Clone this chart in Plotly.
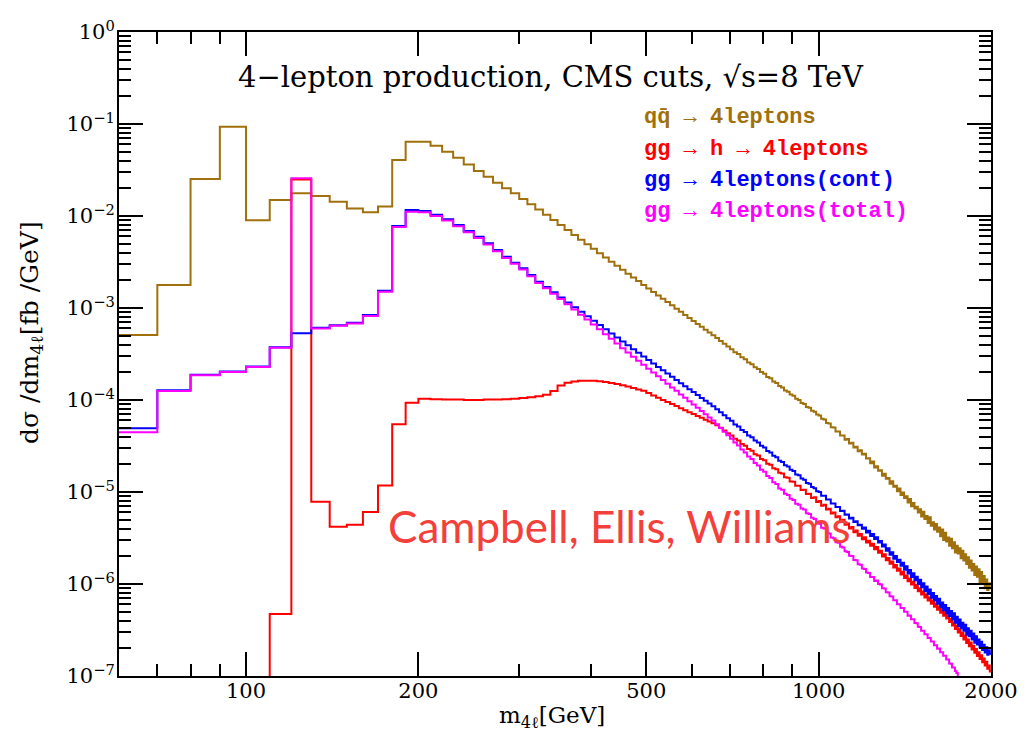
import plotly.graph_objects as go

# ---------------------------------------------------------------------------
# Four-lepton invariant-mass spectra, 10 GeV bins from 60 to 2000 GeV
# ---------------------------------------------------------------------------
BIN_LO, BIN_HI, BIN_W = 60, 2000, 10
bin_edges = list(range(BIN_LO, BIN_HI + BIN_W, BIN_W))

# dsigma/dm4l [fb/GeV], one value per 10 GeV bin
qqbar_4l = [
    5.10e-4, 1.78e-3, 2.52e-2, 9.35e-2, 8.98e-3, 1.49e-2, 1.77e-2, 1.65e-2, 1.43e-2, 1.21e-2, 1.10e-2, 1.27e-2, 4.06e-2, 6.42e-2,
    6.42e-2, 5.81e-2, 5.00e-2, 4.30e-2, 3.64e-2, 3.08e-2, 2.67e-2, 2.30e-2, 2.00e-2, 1.77e-2,
    1.53e-2, 1.34e-2, 1.18e-2, 1.03e-2, 9.05e-3, 7.96e-3, 7.03e-3, 6.22e-3, 5.52e-3, 4.92e-3,
    4.40e-3, 3.94e-3, 3.54e-3, 3.19e-3, 2.88e-3, 2.61e-3, 2.36e-3, 2.15e-3, 1.96e-3, 1.78e-3,
    1.63e-3, 1.49e-3, 1.37e-3, 1.26e-3, 1.16e-3, 1.07e-3, 9.84e-4, 9.08e-4, 8.41e-4, 7.80e-4,
    7.23e-4, 6.71e-4, 6.25e-4, 5.81e-4, 5.42e-4, 5.06e-4, 4.71e-4, 4.39e-4, 4.09e-4, 3.82e-4,
    3.57e-4, 3.30e-4, 3.16e-4, 2.92e-4, 2.77e-4, 2.56e-4, 2.45e-4, 2.27e-4, 2.17e-4, 2.01e-4,
    1.93e-4, 1.78e-4, 1.72e-4, 1.59e-4, 1.53e-4, 1.42e-4, 1.37e-4, 1.27e-4, 1.23e-4, 1.15e-4,
    1.11e-4, 1.03e-4, 1.00e-4, 9.28e-5, 9.05e-5, 8.41e-5, 8.22e-5, 7.62e-5, 7.47e-5, 6.95e-5,
    6.80e-5, 6.25e-5, 6.15e-5, 5.62e-5, 5.55e-5, 5.05e-5, 5.02e-5, 4.55e-5, 4.55e-5, 4.12e-5,
    4.12e-5, 3.70e-5, 3.76e-5, 3.36e-5, 3.42e-5, 3.05e-5, 3.10e-5, 2.78e-5, 2.84e-5, 2.55e-5,
    2.60e-5, 2.31e-5, 2.33e-5, 2.05e-5, 2.14e-5, 1.85e-5, 1.90e-5, 1.70e-5, 1.72e-5, 1.50e-5,
    1.58e-5, 1.39e-5, 1.42e-5, 1.23e-5, 1.31e-5, 1.14e-5, 1.17e-5, 1.02e-5, 1.09e-5, 9.30e-6,
    9.90e-6, 8.60e-6, 9.00e-6, 7.70e-6, 8.40e-6, 7.00e-6, 7.60e-6, 6.60e-6, 6.90e-6, 6.00e-6,
    6.50e-6, 5.40e-6, 6.10e-6, 5.10e-6, 5.50e-6, 4.60e-6, 5.30e-6, 4.30e-6, 4.70e-6, 3.90e-6,
    4.50e-6, 3.70e-6, 4.10e-6, 3.30e-6, 3.90e-6, 3.00e-6, 3.60e-6, 2.90e-6, 3.20e-6, 2.60e-6,
    3.10e-6, 2.45e-6, 2.85e-6, 2.20e-6, 2.60e-6, 2.15e-6, 2.45e-6, 1.90e-6, 2.30e-6, 1.80e-6,
    2.10e-6, 1.65e-6, 1.95e-6, 1.50e-6, 1.80e-6, 1.40e-6, 1.65e-6, 1.25e-6, 1.55e-6, 1.20e-6,
    1.45e-6, 1.05e-6, 1.35e-6, 1.00e-6, 1.22e-6, 9.00e-7, 1.12e-6, 8.60e-7, 1.02e-6, 9.00e-7,
]

gg_h_4l = [
    1e-9, 1e-9, 1e-9, 1e-9, 1e-9, 4.72e-7, 2.50e-2, 7.85e-6, 4.20e-6, 4.40e-6, 6.07e-6, 1.18e-5, 5.44e-5, 9.35e-5,
    1.03e-4, 1.02e-4, 1.01e-4, 1.01e-4, 1.00e-4, 1.00e-4, 1.01e-4, 1.01e-4, 1.02e-4, 1.03e-4,
    1.05e-4, 1.07e-4, 1.10e-4, 1.14e-4, 1.25e-4, 1.44e-4, 1.54e-4, 1.59e-4, 1.62e-4, 1.62e-4,
    1.62e-4, 1.60e-4, 1.57e-4, 1.53e-4, 1.49e-4, 1.45e-4, 1.40e-4, 1.35e-4, 1.30e-4, 1.26e-4,
    1.19e-4, 1.12e-4, 1.06e-4, 1.00e-4, 9.53e-5, 9.04e-5, 8.59e-5, 8.15e-5, 7.75e-5, 7.38e-5,
    7.03e-5, 6.71e-5, 6.40e-5, 6.11e-5, 5.84e-5, 5.58e-5, 5.30e-5, 5.00e-5, 4.67e-5, 4.36e-5,
    4.12e-5, 3.78e-5, 3.62e-5, 3.32e-5, 3.18e-5, 2.93e-5, 2.81e-5, 2.58e-5, 2.49e-5, 2.29e-5,
    2.22e-5, 2.03e-5, 1.98e-5, 1.81e-5, 1.77e-5, 1.62e-5, 1.59e-5, 1.45e-5, 1.43e-5, 1.30e-5,
    1.29e-5, 1.17e-5, 1.17e-5, 1.05e-5, 1.06e-5, 9.50e-6, 9.60e-6, 8.60e-6, 8.75e-6, 7.80e-6,
    8.00e-6, 7.10e-6, 7.25e-6, 6.45e-6, 6.58e-6, 5.85e-6, 5.98e-6, 5.32e-6, 5.45e-6, 4.82e-6,
    4.98e-6, 4.40e-6, 4.55e-6, 4.00e-6, 4.16e-6, 3.66e-6, 3.82e-6, 3.35e-6, 3.50e-6, 3.07e-6,
    3.22e-6, 2.82e-6, 2.96e-6, 2.60e-6, 2.74e-6, 2.38e-6, 2.52e-6, 2.19e-6, 2.30e-6, 1.99e-6,
    2.10e-6, 1.81e-6, 1.92e-6, 1.66e-6, 1.76e-6, 1.51e-6, 1.61e-6, 1.39e-6, 1.47e-6, 1.27e-6,
    1.36e-6, 1.16e-6, 1.24e-6, 1.07e-6, 1.15e-6, 9.85e-7, 1.06e-6, 9.05e-7, 9.75e-7, 8.35e-7,
    9.00e-7, 7.70e-7, 8.30e-7, 7.12e-7, 7.70e-7, 6.60e-7, 7.15e-7, 6.10e-7, 6.62e-7, 5.65e-7,
    6.15e-7, 5.25e-7, 5.70e-7, 4.87e-7, 5.30e-7, 4.53e-7, 4.93e-7, 4.22e-7, 4.58e-7, 3.87e-7,
    4.20e-7, 3.54e-7, 3.84e-7, 3.24e-7, 3.52e-7, 2.97e-7, 3.23e-7, 2.72e-7, 2.96e-7, 2.50e-7,
    2.73e-7, 2.29e-7, 2.50e-7, 2.11e-7, 2.31e-7, 1.94e-7, 2.13e-7, 1.79e-7, 1.96e-7, 1.65e-7,
    1.81e-7, 1.53e-7, 1.68e-7, 1.41e-7, 1.55e-7, 1.30e-7, 1.43e-7, 1.20e-7, 1.30e-7, 1.12e-7,
]

gg_4l_cont = [
    4.92e-5, 1.28e-4, 1.88e-4, 2.04e-4, 2.32e-4, 3.75e-4, 5.30e-4, 6.10e-4, 6.50e-4, 6.90e-4, 8.40e-4, 1.54e-3, 7.80e-3, 1.16e-2,
    1.13e-2, 1.03e-2, 9.20e-3, 7.98e-3, 6.87e-3, 5.96e-3, 5.05e-3, 4.27e-3, 3.61e-3, 3.11e-3,
    2.70e-3, 2.28e-3, 1.93e-3, 1.69e-3, 1.48e-3, 1.30e-3, 1.15e-3, 1.02e-3, 9.08e-4, 8.11e-4,
    7.26e-4, 6.52e-4, 5.86e-4, 5.28e-4, 4.77e-4, 4.32e-4, 3.93e-4, 3.57e-4, 3.26e-4, 2.97e-4,
    2.72e-4, 2.49e-4, 2.29e-4, 2.10e-4, 1.94e-4, 1.79e-4, 1.65e-4, 1.52e-4, 1.41e-4, 1.31e-4,
    1.22e-4, 1.13e-4, 1.05e-4, 9.80e-5, 9.14e-5, 8.55e-5, 7.92e-5, 7.34e-5, 6.81e-5, 6.34e-5,
    5.95e-5, 5.42e-5, 5.15e-5, 4.72e-5, 4.50e-5, 4.12e-5, 3.94e-5, 3.62e-5, 3.45e-5, 3.18e-5,
    3.05e-5, 2.79e-5, 2.68e-5, 2.47e-5, 2.39e-5, 2.19e-5, 2.12e-5, 1.95e-5, 1.89e-5, 1.74e-5,
    1.69e-5, 1.55e-5, 1.52e-5, 1.40e-5, 1.36e-5, 1.25e-5, 1.23e-5, 1.13e-5, 1.10e-5, 1.02e-5,
    1.00e-5, 9.10e-6, 9.10e-6, 8.30e-6, 8.30e-6, 7.50e-6, 7.50e-6, 6.85e-6, 6.85e-6, 6.20e-6,
    6.25e-6, 5.65e-6, 5.70e-6, 5.15e-6, 5.25e-6, 4.72e-6, 4.80e-6, 4.35e-6, 4.40e-6, 3.98e-6,
    4.10e-6, 3.62e-6, 3.78e-6, 3.33e-6, 3.50e-6, 3.08e-6, 3.22e-6, 2.82e-6, 2.93e-6, 2.56e-6,
    2.68e-6, 2.30e-6, 2.44e-6, 2.08e-6, 2.22e-6, 1.88e-6, 2.02e-6, 1.73e-6, 1.84e-6, 1.58e-6,
    1.70e-6, 1.43e-6, 1.56e-6, 1.30e-6, 1.42e-6, 1.19e-6, 1.31e-6, 1.10e-6, 1.20e-6, 1.00e-6,
    1.11e-6, 9.20e-7, 1.02e-6, 8.40e-7, 9.40e-7, 7.80e-7, 8.70e-7, 7.10e-7, 8.00e-7, 6.60e-7,
    7.40e-7, 6.10e-7, 6.90e-7, 5.60e-7, 6.30e-7, 5.20e-7, 5.90e-7, 4.80e-7, 5.50e-7, 4.50e-7,
    5.10e-7, 4.10e-7, 4.80e-7, 3.80e-7, 4.40e-7, 3.50e-7, 4.10e-7, 3.30e-7, 3.80e-7, 3.10e-7,
    3.60e-7, 2.80e-7, 3.30e-7, 2.70e-7, 3.10e-7, 2.50e-7, 2.90e-7, 2.30e-7, 2.70e-7, 2.20e-7,
    2.50e-7, 2.05e-7, 2.35e-7, 1.92e-7, 2.18e-7, 1.80e-7, 2.05e-7, 1.70e-7, 1.90e-7, 1.75e-7,
]

gg_4l_total = [
    4.45e-5, 1.25e-4, 1.86e-4, 2.02e-4, 2.29e-4, 3.70e-4, 2.57e-2, 6.00e-4, 6.40e-4, 6.80e-4, 8.20e-4, 1.50e-3, 7.60e-3, 1.11e-2,
    1.10e-2, 9.99e-3, 8.92e-3, 7.74e-3, 6.66e-3, 5.78e-3, 4.90e-3, 4.14e-3, 3.50e-3, 3.02e-3,
    2.62e-3, 2.21e-3, 1.87e-3, 1.64e-3, 1.43e-3, 1.25e-3, 1.10e-3, 9.66e-4, 8.47e-4, 7.48e-4,
    6.62e-4, 5.86e-4, 5.20e-4, 4.62e-4, 4.11e-4, 3.66e-4, 3.28e-4, 2.96e-4, 2.67e-4, 2.42e-4,
    2.19e-4, 1.99e-4, 1.81e-4, 1.65e-4, 1.50e-4, 1.37e-4, 1.26e-4, 1.15e-4, 1.06e-4, 9.70e-5,
    8.93e-5, 8.22e-5, 7.59e-5, 7.00e-5, 6.47e-5, 6.00e-5, 5.46e-5, 4.97e-5, 4.53e-5, 4.14e-5,
    3.80e-5, 3.45e-5, 3.20e-5, 2.89e-5, 2.69e-5, 2.43e-5, 2.28e-5, 2.06e-5, 1.94e-5, 1.75e-5,
    1.66e-5, 1.49e-5, 1.42e-5, 1.28e-5, 1.22e-5, 1.09e-5, 1.06e-5, 9.55e-6, 9.30e-6, 8.45e-6,
    8.20e-6, 7.45e-6, 7.28e-6, 6.60e-6, 6.45e-6, 5.88e-6, 5.75e-6, 5.24e-6, 5.10e-6, 4.62e-6,
    4.52e-6, 4.08e-6, 4.00e-6, 3.62e-6, 3.55e-6, 3.20e-6, 3.15e-6, 2.85e-6, 2.80e-6, 2.54e-6,
    2.50e-6, 2.27e-6, 2.23e-6, 2.03e-6, 2.01e-6, 1.82e-6, 1.81e-6, 1.64e-6, 1.62e-6, 1.47e-6,
    1.46e-6, 1.33e-6, 1.32e-6, 1.19e-6, 1.19e-6, 1.08e-6, 1.09e-6, 1.00e-6, 9.90e-7, 9.00e-7,
    8.95e-7, 8.12e-7, 8.08e-7, 7.34e-7, 7.32e-7, 6.66e-7, 6.65e-7, 6.04e-7, 6.03e-7, 5.48e-7,
    5.48e-7, 4.98e-7, 4.98e-7, 4.53e-7, 4.54e-7, 4.13e-7, 4.13e-7, 3.76e-7, 3.75e-7, 3.42e-7,
    3.41e-7, 3.11e-7, 3.10e-7, 2.84e-7, 2.84e-7, 2.59e-7, 2.59e-7, 2.37e-7, 2.37e-7, 2.16e-7,
    2.16e-7, 1.98e-7, 1.99e-7, 1.81e-7, 1.81e-7, 1.66e-7, 1.66e-7, 1.51e-7, 1.51e-7, 1.37e-7,
    1.36e-7, 1.24e-7, 1.24e-7, 1.13e-7, 1.08e-7, 9.60e-8, 9.20e-8, 8.20e-8, 7.80e-8, 7.00e-8,
    6.50e-8, 5.98e-8, 5.50e-8, 5.09e-8, 4.70e-8, 4.34e-8, 4.00e-8, 3.69e-8, 3.41e-8, 3.15e-8,
    2.90e-8, 2.68e-8, 2.47e-8, 2.28e-8, 2.10e-8, 1.94e-8, 1.79e-8, 1.65e-8, 1.52e-8, 1.40e-8,
]

# axis ticks
x_major = [100, 200, 500, 1000, 2000]
x_major_text = ["100", "200", "500", "1000", "2000"]
x_minor = [70, 80, 90, 300, 400, 600, 700, 800, 900]
y_exponents = [-7, -6, -5, -4, -3, -2, -1, 0]
y_major = [10.0 ** e for e in y_exponents]
y_major_text = ["10<sup>%s</sup>" % (str(e).replace("-", "\u2212")) for e in y_exponents]
y_minor = [k * 10.0 ** e for e in y_exponents[:-1] for k in range(2, 10)]

series = [
    ("qq\u0304 \u2192 4leptons", qqbar_4l, "#a0700c"),
    ("gg \u2192 h \u2192 4leptons", gg_h_4l, "#ff0000"),
    ("gg \u2192 4leptons(cont)", gg_4l_cont, "#0000ff"),
    ("gg \u2192 4leptons(total)", gg_4l_total, "#ff00ff"),
]

SERIF = "DejaVu Serif"
MONO = "Liberation Mono"
X_RANGE = [1.778151, 3.30103]
Y_RANGE = [-7, 0]

fig = go.Figure()
for name, vals, color in series:
    fig.add_trace(go.Scatter(
        x=bin_edges, y=vals + [vals[-1]], mode="lines", name=name,
        line=dict(color=color, width=2, shape="hv"), showlegend=False,
    ))
# empty traces that carry the tick-mark overlay axes
for ax_x, ax_y in (("x2", "y2"), ("x3", "y3")):
    fig.add_trace(go.Scatter(x=[], y=[], xaxis=ax_x, yaxis=ax_y, showlegend=False,
                             hoverinfo="skip"))

# plot area in pixels (figure 1030 x 736)
PL, PR, PT, PB = 119, 1001, 32, 676


def px(x):
    return (x - PL) / (PR - PL)


def py(y):
    return (PB - y) / (PB - PT)


annotations = [
    dict(text="4\u2212lepton production, CMS cuts, \u221as=8 TeV", x=px(556), y=py(77),
         xanchor="center", yanchor="middle", font=dict(family=SERIF, size=29, color="black")),
    dict(text="Campbell, Ellis, Williams", x=px(389), y=py(526), xanchor="left", yanchor="middle",
         font=dict(family="Lato", size=44, color="#f3403a")),
    dict(text="m<sub>4\u2113</sub>[GeV]", x=px(557), y=py(717), xanchor="center", yanchor="middle",
         font=dict(family=SERIF, size=23, color="black")),
    dict(text="d\u03c3 /dm<sub>4\u2113</sub>[fb /GeV]", x=px(30), y=py(333), xanchor="center",
         yanchor="middle", textangle=-90, font=dict(family=SERIF, size=25, color="black")),
]
legend_rows = [118, 149, 181, 212]
for (name, _, color), ypix in zip(series, legend_rows):
    annotations.append(dict(text="<b>%s</b>" % name, x=px(648), y=py(ypix), xanchor="left",
                            yanchor="middle", font=dict(family=MONO, size=22, color=color)))
for a in annotations:
    a.update(xref="paper", yref="paper", showarrow=False)

# tick-mark-only overlay axes (inside ticks on all four sides)
tick_only = dict(showgrid=False, zeroline=False, showline=False, showticklabels=False,
                 ticks="inside", mirror="allticks", tickcolor="black", tickwidth=2,
                 tickmode="array")

fig.update_layout(
    width=1030, height=736,
    margin=dict(l=PL, r=1030 - PR, t=PT, b=736 - PB),
    paper_bgcolor="white", plot_bgcolor="white",
    # main axes: frame and labels
    xaxis=dict(type="log", range=X_RANGE, tickmode="array", tickvals=x_major,
               ticktext=x_major_text, ticks="", showgrid=False, zeroline=False,
               showline=True, mirror=True, linecolor="black", linewidth=2,
               ticklabelstandoff=-5,
               tickfont=dict(family=SERIF, size=21, color="black")),
    yaxis=dict(type="log", range=Y_RANGE, tickmode="array", tickvals=y_major,
               ticktext=y_major_text, ticks="", showgrid=False, zeroline=False,
               showline=True, mirror=True, linecolor="black", linewidth=2,
               ticklabelstandoff=-2,
               tickfont=dict(family=SERIF, size=21, color="black")),
    # long ticks at the labelled values
    xaxis2=dict(type="log", range=X_RANGE, overlaying="x", anchor="y", side="bottom",
                tickvals=x_major, ticklen=24, **tick_only),
    yaxis2=dict(type="log", range=Y_RANGE, overlaying="y", anchor="x", side="left",
                tickvals=y_major, ticklen=24, **tick_only),
    # short minor ticks
    xaxis3=dict(type="log", range=X_RANGE, overlaying="x", anchor="y", side="bottom",
                tickvals=x_minor, ticklen=12, **tick_only),
    yaxis3=dict(type="log", range=Y_RANGE, overlaying="y", anchor="x", side="left",
                tickvals=y_minor, ticklen=12, **tick_only),
    annotations=annotations,
)

fig.write_html("out.html")
